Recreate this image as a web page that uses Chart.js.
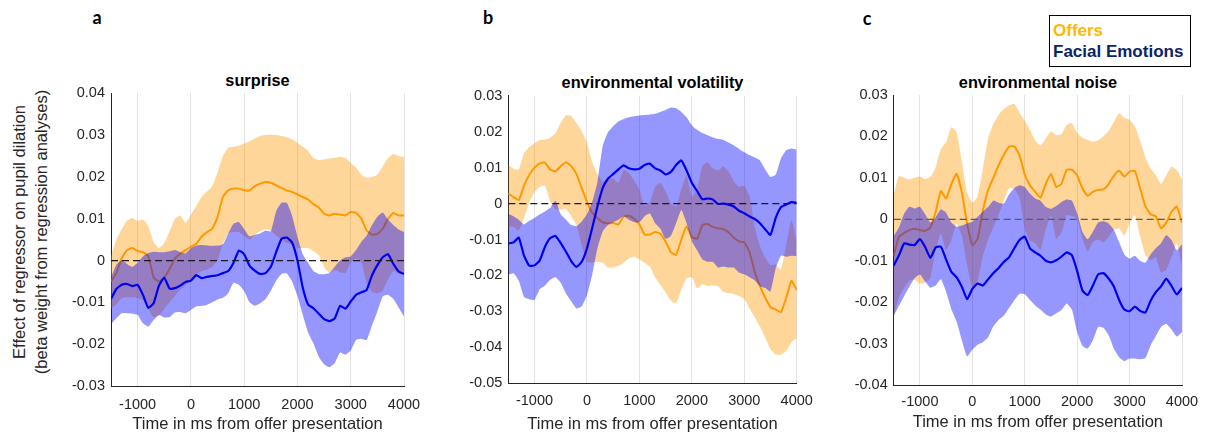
<!DOCTYPE html>
<html>
<head>
<meta charset="utf-8">
<script src="https://cdn.jsdelivr.net/npm/chart.js@4.4.1/dist/chart.umd.min.js"></script>
<style>
  body { margin: 0; background: #fff; width: 1210px; height: 438px; position: relative; overflow: hidden;
         font-family: "Liberation Sans", Arial, sans-serif; }
  canvas { position: absolute; }
  .letter { position: absolute; font: bold 18px Lato, "Liberation Sans", sans-serif; transform: translate(-50%, -50%); }
  .ptitle { position: absolute; font-weight: bold; font-size: 16.3px; color: #000; white-space: nowrap; transform: translate(-50%, -50%); }
  .ylab { position: absolute; left: 30px; top: 232px; width: 320px; font-size: 16.5px; line-height: 22px; color: #262626;
          text-align: center; white-space: nowrap; transform: translate(-50%, -50%) rotate(-90deg); }
  .legend { position: absolute; left: 1049px; top: 15px; width: 142px; height: 52px; box-sizing: border-box;
            border: 1.5px solid #000; padding: 4px 0 0 3px; font-weight: bold; font-size: 17px; line-height: 21px; white-space: nowrap; }
</style>
</head>
<body>
<div class="letter" style="left:97px;top:17px">a</div>
<div class="letter" style="left:488px;top:17px">b</div>
<div class="letter" style="left:867px;top:18px">c</div>

<div class="ptitle" style="left:257.5px;top:80px">surprise</div>
<div class="ptitle" style="left:652.5px;top:82px">environmental volatility</div>
<div class="ptitle" style="left:1038px;top:81.5px">environmental noise</div>

<div class="ylab">Effect of regressor on pupil dilation<br>(beta weight from regression analyses)</div>

<div class="legend"><div style="color:#FFB800">Offers</div><div style="color:#0A2466">Facial Emotions</div></div>

<canvas id="chartA"></canvas>
<canvas id="chartB"></canvas>
<canvas id="chartC"></canvas>

<script>
// time axis (ms from offer presentation)
const times = [-1500, -1400, -1300, -1200, -1100, -1000, -900, -800, -700, -600,
  -500, -400, -300, -200, -100, 0, 100, 200, 300, 400,
  500, 600, 700, 800, 900, 1000, 1100, 1200, 1300, 1400,
  1500, 1600, 1700, 1800, 1900, 2000, 2100, 2200, 2300, 2400,
  2500, 2600, 2700, 2800, 2900, 3000, 3100, 3200, 3300, 3400,
  3500, 3600, 3700, 3800, 3900, 4000];

const xTicks = [-1000, 0, 1000, 2000, 3000, 4000];
const yTicksA = [-0.03, -0.02, -0.01, 0, 0.01, 0.02, 0.03, 0.04];
const yTicksB = [-0.05, -0.04, -0.03, -0.02, -0.01, 0, 0.01, 0.02, 0.03];
const yTicksC = [-0.04, -0.03, -0.02, -0.01, 0, 0.01, 0.02, 0.03];

// a: surprise
const aOffersMean = [-0.005, -0.003, 0.0005, 0.0025, 0.003, 0.0023, 0.002, 0.001, -0.004, -0.005,
  -0.004, -0.002, 0.0005, 0.0017, 0.0025, 0.0033, 0.004, 0.0057, 0.0068, 0.0076,
  0.0104, 0.0152, 0.0168, 0.0172, 0.0172, 0.0168, 0.0168, 0.0178, 0.0184, 0.0188,
  0.0186, 0.018, 0.0174, 0.0168, 0.0164, 0.0158, 0.0152, 0.0146, 0.0135, 0.0127,
  0.0112, 0.0108, 0.0112, 0.011, 0.0108, 0.0116, 0.0114, 0.01, 0.0072, 0.0062,
  0.0064, 0.0076, 0.01, 0.0114, 0.0108, 0.0108];
const aOffersUpper = [0.001, 0.005, 0.0075, 0.0095, 0.0102, 0.0095, 0.0098, 0.0082, 0.0045, 0.003,
  0.0042, 0.007, 0.01, 0.0108, 0.009, 0.011, 0.013, 0.0152, 0.0165, 0.0178,
  0.021, 0.025, 0.027, 0.0272, 0.0275, 0.028, 0.0285, 0.0292, 0.0298, 0.03,
  0.0301, 0.03, 0.0298, 0.0295, 0.029, 0.0282, 0.0272, 0.0262, 0.0245, 0.024,
  0.0242, 0.0244, 0.0245, 0.0248, 0.0245, 0.0234, 0.0222, 0.0205, 0.0198, 0.02,
  0.0205, 0.0225, 0.0245, 0.0255, 0.025, 0.0248];
const aOffersLower = [-0.0115, -0.0105, -0.009, -0.0088, -0.0088, -0.009, -0.0095, -0.0115, -0.0135, -0.0132,
  -0.0115, -0.01, -0.0085, -0.007, -0.006, -0.0045, -0.0035, -0.0025, -0.0022, -0.0015,
  0.0, 0.004, 0.0065, 0.0068, 0.0068, 0.0058, 0.005, 0.0062, 0.007, 0.0075,
  0.0072, 0.006, 0.005, 0.0042, 0.0038, 0.003, 0.003, 0.003, 0.0022, 0.0012,
  -0.0015, -0.003, -0.0022, -0.0028, -0.003, -0.0005, 0.0005, -0.0005, -0.0055, -0.0075,
  -0.0078, -0.0072, -0.0045, -0.0025, -0.0032, -0.0032];
const aFaceMean = [-0.0092, -0.0068, -0.0058, -0.0056, -0.0061, -0.0058, -0.0082, -0.0113, -0.0102, -0.006,
  -0.0041, -0.0067, -0.0066, -0.006, -0.0051, -0.0048, -0.0035, -0.0042, -0.0039, -0.0037,
  -0.0035, -0.003, -0.0025, -0.0005, 0.0024, 0.0015, -0.0012, -0.0024, -0.0032, -0.003,
  -0.0015, 0.002, 0.0052, 0.0055, 0.0043, 0.0, -0.0065, -0.0105, -0.0114, -0.0127,
  -0.014, -0.0145, -0.0138, -0.0108, -0.0115, -0.0098, -0.0082, -0.0076, -0.007, -0.0035,
  -0.0011, 0.0008, 0.0015, -0.0008, -0.0026, -0.0032];
const aFaceUpper = [-0.004, -0.001, 0.0, -0.0008, -0.0015, -0.0005, 0.001, 0.0018, 0.0021, 0.002,
  0.002, 0.0022, 0.0025, 0.002, 0.0017, 0.003, 0.0036, 0.0037, 0.0036, 0.0035,
  0.0036, 0.0038, 0.0065, 0.0088, 0.0092, 0.0075, 0.0058, 0.0062, 0.0065, 0.0072,
  0.007, 0.0118, 0.0138, 0.0138, 0.0107, 0.0057, 0.0015, -0.0005, -0.0025, -0.0032,
  -0.0033, -0.003, -0.0015, 0.0, 0.0008, 0.001, 0.0025, 0.0045, 0.006, 0.0085,
  0.0105, 0.0115, 0.0098, 0.0085, 0.0074, 0.0068];
const aFaceLower = [-0.0152, -0.0138, -0.0126, -0.0126, -0.0127, -0.013, -0.015, -0.0158, -0.0142, -0.013,
  -0.0136, -0.0135, -0.0124, -0.0123, -0.0126, -0.0118, -0.011, -0.0108, -0.0106, -0.01,
  -0.0093, -0.0089, -0.0078, -0.0053, -0.0058, -0.0073, -0.01, -0.0108, -0.0102, -0.0092,
  -0.0072, -0.0048, -0.0032, -0.0031, -0.005, -0.0085, -0.013, -0.0172, -0.0198, -0.023,
  -0.0248, -0.0255, -0.0245, -0.022, -0.0225, -0.0215, -0.019, -0.0187, -0.019, -0.0155,
  -0.0122, -0.0086, -0.0082, -0.0092, -0.0112, -0.0134];

// b: environmental volatility
const bOffersMean = [0.0028, 0.0018, 0.001, 0.005, 0.008, 0.01, 0.0112, 0.0114, 0.0094, 0.009,
  0.0104, 0.0115, 0.0104, 0.0082, 0.0043, 0.0004, -0.0025, -0.004, -0.0052, -0.0055,
  -0.0054, -0.0058, -0.0036, -0.0034, -0.0042, -0.0058, -0.0086, -0.0086, -0.0079, -0.0084,
  -0.0106, -0.0135, -0.0143, -0.01, -0.0064, -0.0093, -0.0098, -0.006, -0.0057, -0.0065,
  -0.0069, -0.0071, -0.008, -0.0095, -0.0105, -0.0108, -0.0135, -0.019, -0.023, -0.0262,
  -0.0288, -0.0295, -0.0302, -0.0262, -0.0215, -0.024];
const bOffersUpper = [0.0107, 0.0097, 0.0095, 0.014, 0.0157, 0.0168, 0.0177, 0.0178, 0.0183, 0.0196,
  0.0225, 0.0245, 0.0243, 0.0224, 0.0202, 0.017, 0.0115, 0.0082, 0.0061, 0.0068,
  0.007, 0.0058, 0.0093, 0.0085, 0.0064, 0.0039, -0.0007, 0.0004, 0.0047, 0.0058,
  0.0035, 0.0, -0.0008, 0.004, 0.008, 0.0019, 0.004, 0.0105, 0.0115, 0.0098,
  0.0092, 0.0103, 0.0089, 0.0062, 0.0047, 0.0049, 0.0022, -0.0064, -0.0118, -0.0151,
  -0.0171, -0.017, -0.0184, -0.0114, -0.0045, -0.0105];
const bOffersLower = [-0.0065, -0.0065, -0.0075, -0.004, 0.0003, 0.0032, 0.0047, 0.005, 0.0005, -0.0016,
  -0.0017, -0.0015, -0.0035, -0.006, -0.0116, -0.0162, -0.0165, -0.0162, -0.0165, -0.0178,
  -0.0178, -0.0174, -0.0165, -0.0153, -0.0148, -0.0155, -0.0165, -0.0176, -0.0205, -0.0226,
  -0.0247, -0.027, -0.0278, -0.024, -0.0208, -0.0205, -0.0236, -0.0225, -0.0229, -0.0228,
  -0.023, -0.0245, -0.0249, -0.0252, -0.0257, -0.0265, -0.0292, -0.0316, -0.0342, -0.0373,
  -0.0405, -0.042, -0.042, -0.041, -0.0385, -0.0375];
const bFaceMean = [-0.0111, -0.0108, -0.0095, -0.0145, -0.0173, -0.0172, -0.0158, -0.012, -0.0096, -0.009,
  -0.011, -0.0134, -0.016, -0.0176, -0.0162, -0.0125, -0.0068, -0.0008, 0.0043, 0.0069,
  0.0082, 0.0095, 0.0106, 0.0098, 0.0095, 0.0097, 0.0107, 0.0111, 0.0098, 0.0092,
  0.0081, 0.0088, 0.0107, 0.012, 0.0092, 0.0058, 0.0035, 0.0012, 0.0014, 0.0011,
  -0.0001, 0.0, -0.0003, -0.0008, -0.002, -0.0027, -0.0036, -0.0043, -0.0055, -0.0072,
  -0.0087, -0.004, -0.001, -0.0003, 0.0004, 0.0002];
const bFaceUpper = [-0.003, -0.0035, -0.0045, -0.0058, -0.0048, -0.004, -0.003, -0.0022, -0.0012, 0.0008,
  -0.003, -0.0045, -0.006, -0.0063, -0.005, -0.003, 0.0005, 0.006, 0.016, 0.0198,
  0.0215, 0.0228, 0.0235, 0.024, 0.0243, 0.0245, 0.0246, 0.0248, 0.025, 0.0255,
  0.026, 0.0267, 0.0265, 0.0255, 0.024, 0.0218, 0.0205, 0.0196, 0.019, 0.0184,
  0.018, 0.0177, 0.017, 0.0162, 0.0152, 0.0143, 0.0135, 0.0128, 0.012, 0.0095,
  0.0074, 0.008, 0.0125, 0.0148, 0.0153, 0.015];
const bFaceLower = [-0.0198, -0.0194, -0.0215, -0.026, -0.0266, -0.0268, -0.0238, -0.0228, -0.0212, -0.0205,
  -0.022, -0.025, -0.0272, -0.0292, -0.0286, -0.0255, -0.0198, -0.0125, -0.0078, -0.006,
  -0.0052, -0.0045, -0.0035, -0.0045, -0.0052, -0.0052, -0.0035, -0.0028, -0.0055, -0.007,
  -0.0098, -0.009, -0.0055, -0.0018, -0.0055, -0.0105, -0.013, -0.0155, -0.0162, -0.0162,
  -0.0178, -0.0175, -0.0178, -0.0178, -0.0192, -0.0197, -0.0205, -0.0214, -0.023, -0.0235,
  -0.0245, -0.018, -0.0145, -0.0148, -0.0145, -0.0146];

// c: environmental noise
const cOffersMean = [-0.0088, -0.0042, -0.0033, -0.0026, -0.0023, -0.0026, -0.0028, -0.002, 0.0018, 0.0068,
  0.005, 0.0085, 0.011, 0.0065, -0.001, -0.0062, -0.0047, 0.002, 0.007, 0.01,
  0.013, 0.0155, 0.0175, 0.0176, 0.0155, 0.0108, 0.0082, 0.0066, 0.0052, 0.0085,
  0.011, 0.0078, 0.0086, 0.0119, 0.012, 0.0105, 0.0075, 0.0057, 0.0066, 0.0071,
  0.0072, 0.0085, 0.0105, 0.0117, 0.0103, 0.0115, 0.0117, 0.0075, 0.0032, 0.0012,
  0.0007, -0.0022, -0.0008, 0.0018, 0.0031, -0.0008];
const cOffersUpper = [0.006, 0.0104, 0.01, 0.0096, 0.01, 0.0103, 0.0097, 0.0102, 0.0125, 0.017,
  0.0186, 0.0222, 0.021, 0.014, 0.0065, 0.004, 0.0055, 0.012, 0.0195, 0.023,
  0.0252, 0.0266, 0.0275, 0.0279, 0.0258, 0.0238, 0.0216, 0.019, 0.0178, 0.0195,
  0.0212, 0.0203, 0.0205, 0.0228, 0.0232, 0.0208, 0.0197, 0.0192, 0.0187, 0.0191,
  0.02, 0.0213, 0.0235, 0.0256, 0.0245, 0.024, 0.0224, 0.019, 0.015, 0.0123,
  0.0106, 0.0085, 0.0106, 0.0127, 0.0119, 0.0097];
const cOffersLower = [-0.0236, -0.0188, -0.0166, -0.0148, -0.0146, -0.0155, -0.0153, -0.0142, -0.0075, -0.0035,
  -0.0075, -0.005, -0.001, -0.004, -0.011, -0.0165, -0.015, -0.009, -0.005, -0.002,
  0.001, 0.0045, 0.0075, 0.0073, 0.0052, -0.0022, -0.0052, -0.0058, -0.0074, -0.0025,
  0.0008, -0.0047, -0.0033, 0.001, 0.0008, 0.0002, -0.0047, -0.0078, -0.0055, -0.0049,
  -0.0056, -0.0043, -0.0025, -0.0022, -0.0039, -0.001, 0.001, -0.004, -0.0086, -0.0099,
  -0.0092, -0.0129, -0.0122, -0.0091, -0.0057, -0.0113];
const cFaceMean = [-0.0112, -0.0087, -0.0058, -0.0061, -0.0062, -0.0048, -0.0067, -0.0093, -0.0068, -0.0066,
  -0.0097, -0.0127, -0.014, -0.0163, -0.0193, -0.0168, -0.0155, -0.016, -0.0145, -0.013,
  -0.0118, -0.0103, -0.0092, -0.007, -0.005, -0.0042, -0.007, -0.008, -0.0088, -0.01,
  -0.0104, -0.0099, -0.009, -0.008, -0.0087, -0.0125, -0.0172, -0.0183, -0.016, -0.0133,
  -0.013, -0.0143, -0.0162, -0.0195, -0.0218, -0.0222, -0.0211, -0.0221, -0.0225, -0.0197,
  -0.0176, -0.0162, -0.0143, -0.0161, -0.0181, -0.0166];
const cFaceUpper = [-0.004, -0.002, 0.0014, 0.003, 0.0026, 0.003, 0.0012, -0.0008, 0.0005, 0.0024,
  0.0016, -0.0008, -0.0018, -0.0015, -0.001, -0.0006, 0.0006, 0.0018, 0.003, 0.0045,
  0.004, 0.0038, 0.006, 0.0075, 0.0082, 0.0078, 0.0062, 0.005, 0.0045, 0.003,
  0.0025, 0.0032, 0.0042, 0.0048, 0.0045, 0.0015, -0.003, -0.0048, -0.003, -0.0008,
  -0.0005, -0.001, -0.0025, -0.0055, -0.0085, -0.0095, -0.0088, -0.01, -0.0105, -0.0085,
  -0.007, -0.0058, -0.0038, -0.005, -0.0075, -0.006];
const cFaceLower = [-0.0234, -0.0209, -0.0185, -0.0163, -0.0142, -0.0133, -0.015, -0.0165, -0.016, -0.0145,
  -0.0175, -0.0217, -0.0247, -0.0292, -0.0331, -0.0315, -0.0303, -0.0297, -0.0285, -0.0259,
  -0.0243, -0.0233, -0.0214, -0.0196, -0.018, -0.0181, -0.0195, -0.0208, -0.0218, -0.023,
  -0.0235, -0.0227, -0.0219, -0.0203, -0.0218, -0.0272, -0.0305, -0.0312, -0.0292, -0.026,
  -0.0262, -0.028, -0.0312, -0.0333, -0.0342, -0.0336, -0.0336, -0.0338, -0.0335, -0.0305,
  -0.0282, -0.026, -0.0253, -0.0266, -0.0283, -0.0272];

const ORANGE = '#FF9900';
const ORANGE_FILL = 'rgba(255,153,0,0.4)';
const BLUE = '#0000F0';
const BLUE_FILL = 'rgba(0,0,255,0.41)';
const TEXT = '#262626';

Chart.defaults.font.family = '"Liberation Sans", Arial, sans-serif';

function pts(ys) {
  return times.map((t, i) => ({ x: t, y: ys[i] }));
}

function fmtY(v) {
  return Math.abs(v) < 1e-9 ? '0' : v.toFixed(2);
}

// p: placement of canvas and plot area, s: series
function makePanel(id, p, s) {
  const cv = document.getElementById(id);
  cv.width = p.w; cv.height = p.h;
  cv.style.left = p.left + 'px'; cv.style.top = p.top + 'px';
  cv.style.width = p.w + 'px'; cv.style.height = p.h + 'px';

  const band = (ys) => ({ data: pts(ys), borderWidth: 0, pointRadius: 0, tension: 0.15, fill: false });

  // datasets with a lower index are drawn on top
  const datasets = [
    { data: pts(times.map(() => 0)), borderColor: p.dash, borderWidth: 1.3, borderDash: [7, 4],
      pointRadius: 0, fill: false },
    { data: pts(s.faceMean), borderColor: BLUE, borderWidth: 2.2, pointRadius: 0, tension: 0.15, fill: false },
    Object.assign(band(s.faceUpper), { fill: '+1', backgroundColor: BLUE_FILL }),
    band(s.faceLower),
    { data: pts(s.offMean), borderColor: ORANGE, borderWidth: 2, pointRadius: 0, tension: 0.15, fill: false },
    Object.assign(band(s.offUpper), { fill: '+1', backgroundColor: ORANGE_FILL }),
    band(s.offLower)
  ];

  new Chart(cv, {
    type: 'line',
    data: { datasets },
    options: {
      responsive: false,
      animation: false,
      devicePixelRatio: 1,
      events: [],
      layout: { padding: { left: 0, top: p.padTop, right: p.padRight, bottom: 0 } },
      plugins: { legend: { display: false }, tooltip: { enabled: false },
                 filler: { drawTime: 'beforeDatasetDraw' } },
      scales: {
        x: {
          type: 'linear', min: -1500, max: 4000,
          afterBuildTicks: (ax) => { ax.ticks = xTicks.map(v => ({ value: v })); },
          afterFit: (ax) => { ax.height = p.xH; ax.paddingLeft = 0; ax.paddingRight = 0; },
          grid: { color: '#e2e2e2', lineWidth: 1, drawTicks: false },
          border: { display: true, color: TEXT, width: 1 },
          ticks: { color: TEXT, font: { size: 14.5 }, padding: p.xPad, maxRotation: 0, autoSkip: false,
                   callback: (v) => String(v) },
          title: { display: true, text: 'Time in ms from offer presentation', color: TEXT,
                   font: { size: 16.5 }, padding: { top: 0, bottom: p.titlePad } }
        },
        y: {
          type: 'linear', min: p.yMin, max: p.yMax,
          afterBuildTicks: (ax) => { ax.ticks = p.yTicks.map(v => ({ value: v })); },
          afterFit: (ax) => { ax.width = p.yW; ax.paddingTop = 0; ax.paddingBottom = 0; },
          grid: { display: true, color: 'rgba(0,0,0,0)', drawTicks: false },
          border: { display: true, color: TEXT, width: 1 },
          ticks: { color: TEXT, font: { size: 14.5 }, padding: 6, autoSkip: false, callback: fmtY }
        }
      }
    }
  });
}

makePanel('chartA',
  { left: 0, top: 80, w: 420, h: 358, yW: 111, padTop: 13.3, padRight: 16, xH: 52, xPad: 10.5, titlePad: 4,
    yMin: -0.03, yMax: 0.04, yTicks: yTicksA, dash: '#1a1a1a' },
  { offMean: aOffersMean, offUpper: aOffersUpper, offLower: aOffersLower,
    faceMean: aFaceMean, faceUpper: aFaceUpper, faceLower: aFaceLower });

makePanel('chartB',
  { left: 420, top: 80, w: 400, h: 358, yW: 88.3, padTop: 15.7, padRight: 23.3, xH: 54.7, xPad: 9, titlePad: 3.5,
    yMin: -0.05, yMax: 0.03, yTicks: yTicksB, dash: '#1a1a1a' },
  { offMean: bOffersMean, offUpper: bOffersUpper, offLower: bOffersLower,
    faceMean: bFaceMean, faceUpper: bFaceUpper, faceLower: bFaceLower });

makePanel('chartC',
  { left: 820, top: 80, w: 390, h: 358, yW: 73.7, padTop: 15, padRight: 28, xH: 53, xPad: 8.5, titlePad: 5.5,
    yMin: -0.04, yMax: 0.03, yTicks: yTicksC, dash: '#5a5a5a' },
  { offMean: cOffersMean, offUpper: cOffersUpper, offLower: cOffersLower,
    faceMean: cFaceMean, faceUpper: cFaceUpper, faceLower: cFaceLower });
</script>
</body>
</html>
